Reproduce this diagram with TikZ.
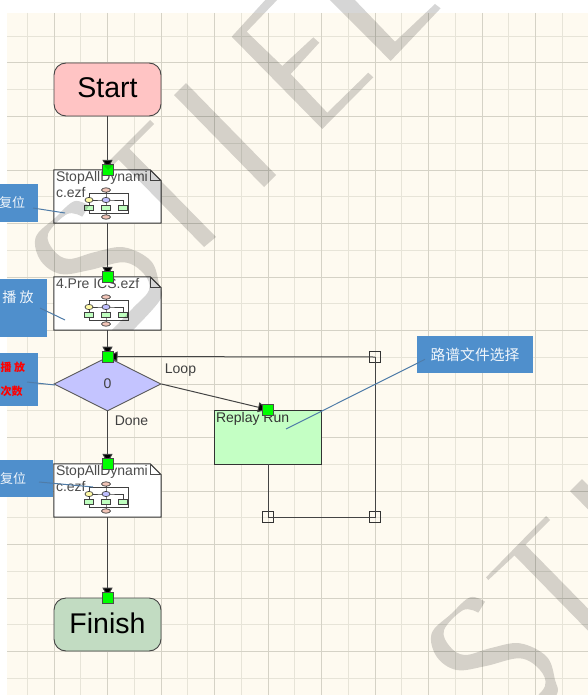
\documentclass[tikz,border=0pt]{standalone}
\usepackage{fontspec}
\setmainfont{Liberation Sans}
\newfontfamily\cjk{Noto Sans CJK SC}
\usepackage{tikz}
\usetikzlibrary{arrows.meta, shapes.geometric}

\definecolor{canvas}{HTML}{FEFAF0}
\definecolor{gridthin}{HTML}{E7E4D8}
\definecolor{gridthick}{HTML}{D5D2C6}
\definecolor{noteblue}{HTML}{4F8FCC}
\definecolor{noteline}{HTML}{4F7CA8}
\definecolor{linegrey}{HTML}{444444}

\tikzset{
  gridline/.style={line width=1pt, gridthin},
  gridbold/.style={line width=1pt, gridthick},
  wmark/.style={fill=black, fill opacity=0.16},
  flow/.style={line width=1pt, linegrey},
  flowtip/.style={flow, -{Triangle[length=10pt,width=10pt,fill=black]}},
  endbox/.style={draw=linegrey, line width=0.9pt, rounded corners=12pt, minimum width=107pt, minimum height=53pt, inner sep=0pt, text depth=3pt, font=\fontsize{28.5}{30}\selectfont},
  docbox/.style={minimum width=107pt, minimum height=53pt, inner sep=0pt},
  docline/.style={draw=black!80, fill=white, line width=1pt},
  doctext/.style={anchor=north west, align=left, inner xsep=2pt, inner ysep=1pt, text=black!70, font=\fontsize{14}{16.5}\selectfont},
  port/.style={draw=black!70, fill=green, line width=0.7pt, minimum size=11pt, inner sep=0pt},
  handle/.style={draw=black!80, line width=0.8pt, minimum size=11pt, inner sep=0pt},
  edgetext/.style={text=black!75, inner sep=0pt, font=\fontsize{14}{16}\selectfont},
  note/.style={fill=noteblue, inner sep=0pt, text=white!92!noteblue, align=center},
  noteedge/.style={line width=1pt, noteline},
  iconline/.style={line width=0.7pt, black!75}
}

% little flow chart printed inside a document box
\newcommand{\flowicon}[1]{
\begin{scope}[shift={(#1.center)}]
\draw [iconline] (-1.5,-6.5) -- (-1.5,-3.5) (-18.5,3.5) -- (-18.5,-3.5) -- (20.5,-3.5) -- (20.5,16.5) -- (-18.5,16.5) -- (-18.5,3.5);
\draw [iconline] (-1.5,-3.5) -- (-1.5,16.5) -- (-1.5,20.5) (-18.5,3.5) -- (-1.5,3.5) -- (15.5,3.5) -- (15.5,11.5);
\filldraw [iconline, fill=pink!70!brown!70] (-1.5,-6.5) ellipse (4.5 and 2.2);
\filldraw [iconline, fill=yellow!35] (-18.5,3.5) ellipse (4 and 2.6);
\filldraw [iconline, fill=blue!25] (-1.5,3.5) ellipse (4 and 2.6);
\filldraw [iconline, fill=green!25] (-23,8.5) rectangle (-14,14);
\filldraw [iconline, fill=green!25] (-6,8.5) rectangle (3,14);
\filldraw [iconline, fill=green!25] (11,8.5) rectangle (20,14);
\filldraw [iconline, fill=pink!70!brown!70] (-1.5,20.5) ellipse (4.5 and 2.2);
\end{scope}
}

% document box outline with its folded corner
\newcommand{\docoutline}[1]{
\path [docline] (#1.north west) -- ([xshift=-11pt]#1.north east) -- ([yshift=-11pt]#1.north east) -- (#1.south east) -- (#1.south west) -- cycle;
\draw [line width=0.8pt, black!70] ([xshift=-11pt]#1.north east) -- ([xshift=-11pt,yshift=-11pt]#1.north east) -- ([yshift=-11pt]#1.north east);
}

% letters of the stamp over the page
\newcommand{\stampS}{plot [smooth, tension=0.6] coordinates {(89,205.7) (74,201.3) (55,218) (35.7,237.3) (40.7,260.7) (60.7,274) (90,270) (124,262.3) (144,274) (149,290) (133,308) (112,330)} -- plot [smooth, tension=0.6] coordinates {(133,330) (160,300) (159,284) (150.7,260.7) (124,247.3) (95,252) (69,259) (54,250.7) (48,234) (67.3,214) (82.3,216.7)} -- cycle}
\newcommand{\stampT}[2]{(150,120) -- (154,124) -- (129.3,148.7) -- (216,237) -- (204,247) -- (118.5,159.5) -- #1 -- #2 -- cycle}
\newcommand{\stampI}{(186,83) -- (276,175) -- (264,187) -- (174,95) -- cycle}

\begin{document}
\begin{tikzpicture}[x=1pt, y=-1pt]

\useasboundingbox (0,0) rectangle (588,695);
\fill [white] (0,0) rectangle (588,695);
\fill [canvas] (7,13) rectangle (588,695);

%%%%%%%%%%%%%%% Grid
\foreach \gx in {27.3,80.8,...,590} \draw [gridline] (\gx,13) -- (\gx,695);
\foreach \gy in {36.3,89.8,...,695} \draw [gridline] (7,\gy) -- (588,\gy);
\foreach \gx in {54,107.5,...,590} \draw [gridbold] (\gx,13) -- (\gx,695);
\foreach \gy in {63,116.5,...,695} \draw [gridbold] (7,\gy) -- (588,\gy);

%%%%%%%%%%%%%%% Blocks
\node [endbox, fill={rgb,255:red,255;green,196;blue,196}] (start) at (107.5,89.5) {Start};
\node [docbox] (stopa) at (107.5,196.5) {};
\node [docbox] (preics) at (107.5,303.5) {};
\node [diamond, draw=black!65, line width=0.9pt, fill={rgb,255:red,196;green,196;blue,255}, minimum width=107pt, minimum height=54pt, aspect=2, inner sep=0pt, text=black!75, font=\fontsize{14}{16}\selectfont] (loopdia) at (107.5,384) {0};
\node [docbox] (stopb) at (107.5,490.5) {};
\node [endbox, fill={rgb,255:red,194;green,220;blue,194}] (finish) at (107.5,624.5) {Finish};
\node [draw=black!80, line width=0.9pt, fill={rgb,255:red,196;green,255;blue,196}, minimum width=107.5pt, minimum height=54pt, inner sep=0pt] (replay) at (268,437) {};

\docoutline{stopa}
\docoutline{preics}
\docoutline{stopb}
\flowicon{stopa}
\flowicon{preics}
\flowicon{stopb}

\node [doctext] (stopatxt) at (stopa.north west) {StopAllDynami\\c.ezf};
\node [doctext] (preicstxt) at (preics.north west) {4.Pre ICS.ezf};
\node [doctext] (stopbtxt) at (stopb.north west) {StopAllDynami\\c.ezf};
\node [doctext, text=black!80, yshift=-2pt] (replaytxt) at (replay.north west) {Replay Run};

%%%%%%%%%%%%%%% Handles of the loop
\node [handle] (loopa) at (268,517) {};
\node [handle] (loopb) at (375,517) {};
\node [handle] (loopc) at (375,357) {};

%%%%%%%%%%%%%%% Connectors
\draw [flowtip] (start.south) -- (stopa.north);
\draw [flowtip] (stopa.south) -- (preics.north);
\draw [flowtip] (preics.south) -- (loopdia.north);
\draw [flowtip] (loopdia.south) -- (stopb.north);
\draw [flowtip] (stopb.south) -- (finish.north);
\draw [flowtip] (loopdia.east) -- (replay.north);
\draw [flow] (replay.south) -- (loopa.center) -- (loopb.center) -- (loopc.center);
\draw [flowtip] (loopc.center) -- (loopdia.north);

\node [port] (porta) at (stopa.north) {};
\node [port] (portb) at (preics.north) {};
\node [port] (portc) at (loopdia.north) {};
\node [port] (portd) at (stopb.north) {};
\node [port] (porte) at (finish.north) {};
\node [port] (portf) at (replay.north) {};

\node [edgetext] (looptxt) at (180.5,370.5) {Loop};
\node [edgetext] (donetxt) at (131.5,420.5) {Done};

%%%%%%%%%%%%%%% Stamp
\fill [wmark] \stampS;
\fill [wmark] \stampT{(108,170)}{(104,166)};
\fill [wmark] \stampI;
\fill [wmark] (231.7,36.7) -- (322.3,129) -- (373.3,77.3) -- (368.3,72.7) -- (327.3,112.7) -- (290.7,74) -- (319.3,42.7) -- (313.3,37.3) -- (282.3,66) -- (246.7,31.7) -- (280,-3) -- (268,-3) -- cycle;
\fill [wmark] (327,-3) -- (390.7,61) -- (440.6,8.3) -- (435,4) -- (395,41.7) -- (352,-3) -- cycle;
\begin{scope}[shift={(396,396)}]
\fill [wmark] \stampS;
\fill [wmark] \stampT{(92.3,184)}{(90,181.3)};
\fill [wmark] \stampI;
\end{scope}

%%%%%%%%%%%%%%% Notes
\node [note, minimum width=52pt, minimum height=38pt, font=\cjk\fontsize{13}{15}\selectfont] (notea) at (12,203) {复位};
\node [note, minimum width=58pt, minimum height=58pt, font=\cjk\fontsize{14}{16}\selectfont] (noteb) at (18,308) {播 放\\[6pt]~};
\node [note, minimum width=50pt, minimum height=53pt, align=left, text=red, font=\cjk\bfseries\fontsize{11}{24}\selectfont] (notec) at (13,379.5) {播 放\\次数};
\node [note, minimum width=80pt, minimum height=37pt, font=\cjk\fontsize{13}{15}\selectfont] (noted) at (13,478.5) {复位};
\node [note, minimum width=116pt, minimum height=37pt, font=\cjk\fontsize{14.8}{16}\selectfont] (notee) at (475,354.5) {路谱文件选择};

\coordinate (aima) at (65,213);
\coordinate (aimb) at (65,320);
\coordinate (aimc) at (55,385);
\coordinate (aimd) at (93,487);
\coordinate (aime) at (286,429);
\coordinate (taila) at (33,208);
\coordinate (tailb) at (40,308);
\coordinate (tailc) at (27,382);
\coordinate (taild) at (39,482);
\coordinate (taile) at (425,359.3);

\draw [noteedge] (taila) -- (aima);
\draw [noteedge] (tailb) -- (aimb);
\draw [noteedge] (tailc) -- (aimc);
\draw [noteedge] (taild) -- (aimd);
\draw [noteedge] (taile) -- (aime);

\end{tikzpicture}
\end{document}
